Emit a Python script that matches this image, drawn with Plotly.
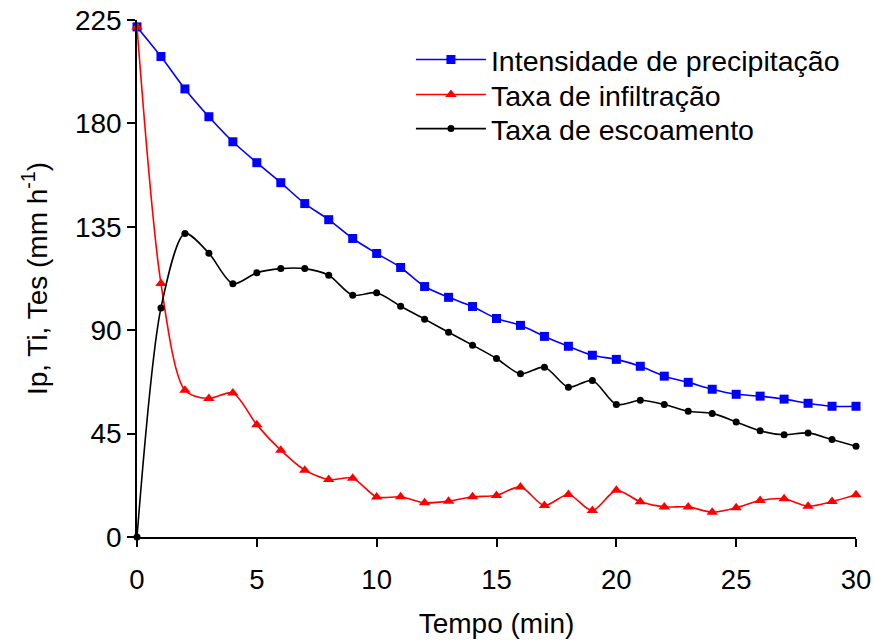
import plotly.graph_objects as go

tempo = list(range(0, 31))
intensidade = [222.0, 209.1, 195.0, 182.9, 172.0, 162.9, 154.2, 145.1, 138.1, 129.9,
               123.4, 117.3, 109.0, 104.3, 100.3, 95.1, 92.1, 87.3, 83.0, 79.1,
               77.3, 74.3, 70.0, 67.3, 64.3, 62.1, 61.3, 60.0, 58.2, 56.9, 56.9]
infiltracao = [222.0, 110.3, 63.9, 60.3, 62.7, 48.8, 37.8, 29.1, 25.0, 25.6,
               17.4, 17.5, 14.9, 15.6, 17.5, 18.1, 21.8, 13.7, 18.5, 11.5,
               20.3, 15.3, 13.1, 13.1, 10.8, 12.7, 15.9, 16.6, 13.4, 15.4, 18.4]
escoamento = [0.0, 99.7, 132.1, 123.5, 110.2, 115.0, 116.8, 116.8, 113.9, 105.2,
              106.3, 100.4, 94.8, 89.1, 83.5, 77.7, 71.0, 73.9, 65.2, 68.1,
              57.7, 59.5, 57.7, 54.7, 53.8, 50.1, 46.2, 44.5, 45.3, 42.4, 39.5]

series_names = ["Intensidade de precipitação", "Taxa de infiltração", "Taxa de escoamento"]
x_ticks = [0, 5, 10, 15, 20, 25, 30]
y_ticks = [0, 45, 90, 135, 180, 225]

FONT = "Liberation Sans, Arial, sans-serif"

fig = go.Figure()
styles = [
    (intensidade, "#0000ff", "square", 9, "legend"),
    (infiltracao, "#ff0000", "triangle-up", 10, "legend2"),
    (escoamento, "#000000", "circle", 7, "legend3"),
]
for name, (vals, color, sym, size, lg) in zip(series_names, styles):
    fig.add_trace(go.Scatter(
        x=tempo, y=vals, name=name, mode="lines+markers",
        line=dict(color=color, width=1.6, shape="spline", smoothing=0.8),
        marker=dict(symbol=sym, size=size, color=color),
        cliponaxis=False, legend=lg, showlegend=True,
    ))

leg_common = dict(x=0.381, xanchor="left", yanchor="middle",
                  font=dict(size=28.5, family=FONT, color="black"),
                  bgcolor="rgba(0,0,0,0)", itemwidth=70)
legend_rows = [0.9226, 0.855, 0.789]

fig.update_layout(
    width=874, height=640,
    margin=dict(l=137, r=18, t=20, b=103),
    showlegend=True,
    paper_bgcolor="white", plot_bgcolor="white",
    font=dict(family=FONT, color="black", size=28),
    legend=dict(y=legend_rows[0], **leg_common),
    legend2=dict(y=legend_rows[1], **leg_common),
    legend3=dict(y=legend_rows[2], **leg_common),
    xaxis=dict(range=[0, 30], tickvals=x_ticks, showgrid=False, zeroline=False,
               showline=True, linecolor="black", linewidth=1.5,
               ticks="outside", ticklen=8, tickwidth=1.5, tickcolor="black",
               tickfont=dict(size=27.5), ticklabelstandoff=9, automargin=False,
               ticklabeloverflow="allow",
               title=dict(text="Tempo (min)", font=dict(size=28), standoff=20)),
    yaxis=dict(range=[0, 225], tickvals=y_ticks, showgrid=False, zeroline=False,
               showline=True, linecolor="black", linewidth=1.5,
               ticks="outside", ticklen=8, tickwidth=1.5, tickcolor="black",
               tickfont=dict(size=28), automargin=False,
               ticklabeloverflow="allow",
               title=dict(text="Ip, Ti, Tes (mm h<sup>-1</sup>)", font=dict(size=28), standoff=19)),
)

# remove the default 8px page margin so the 874x640 figure fills the window
fig.write_html(
    "out.html",
    config={"displayModeBar": False},
    post_script="document.body.style.margin='0';document.body.style.overflow='hidden';",
)
